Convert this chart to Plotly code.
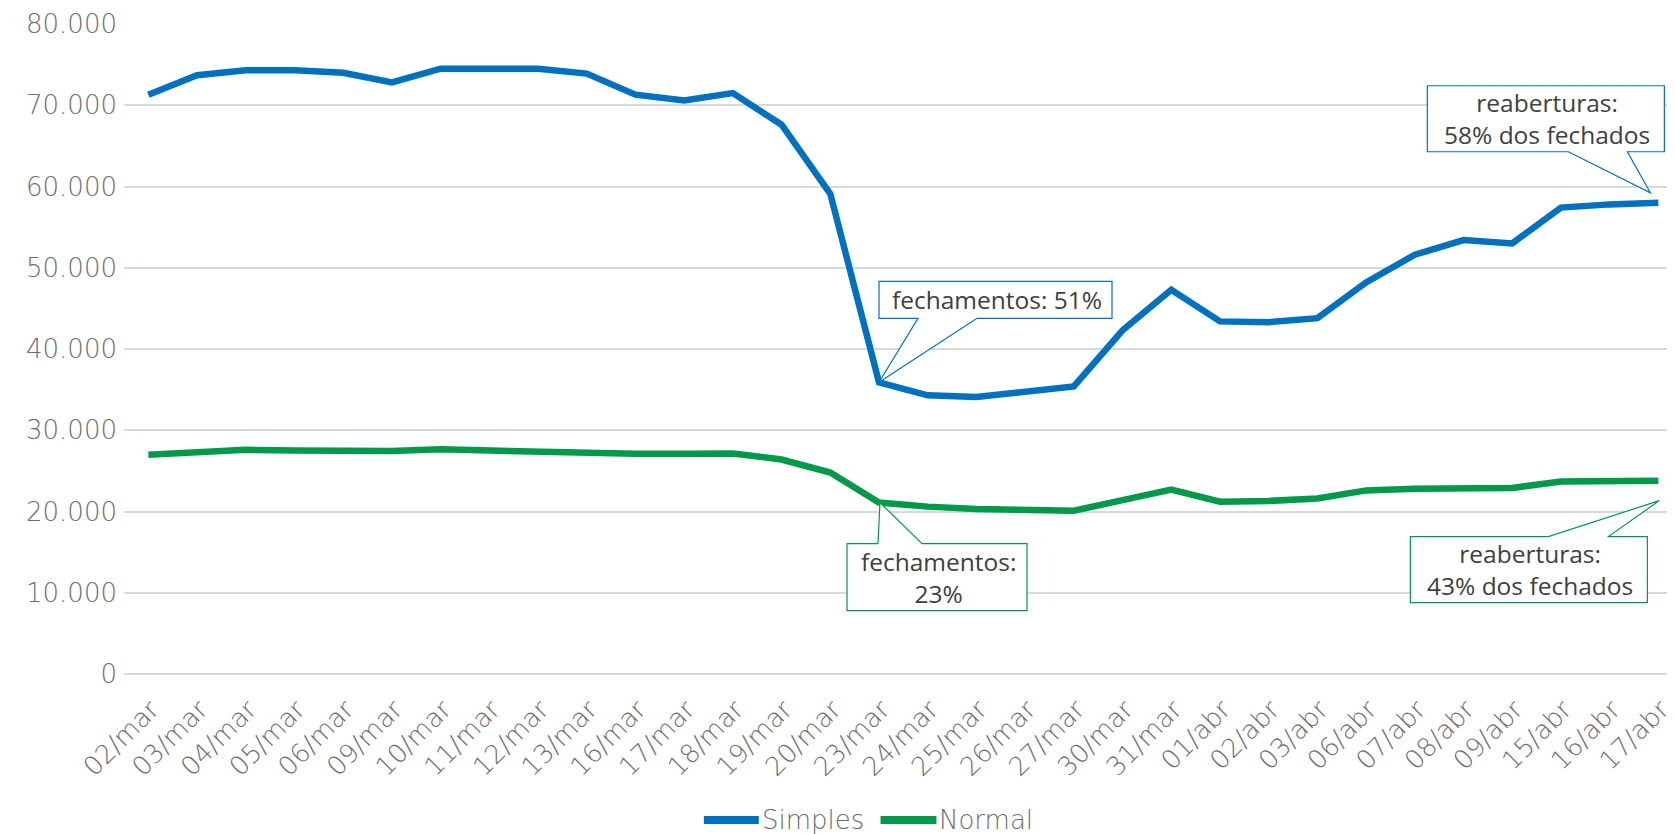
import plotly.graph_objects as go

categories = ["02/mar", "03/mar", "04/mar", "05/mar", "06/mar", "09/mar", "10/mar", "11/mar",
              "12/mar", "13/mar", "16/mar", "17/mar", "18/mar", "19/mar", "20/mar", "23/mar",
              "24/mar", "25/mar", "26/mar", "27/mar", "30/mar", "31/mar", "01/abr", "02/abr",
              "03/abr", "06/abr", "07/abr", "08/abr", "09/abr", "15/abr", "16/abr", "17/abr"]

simples = [71300, 73700, 74300, 74300, 74000, 72800, 74500, 74600,
           74500, 73900, 71300, 70600, 71500, 67600, 59100, 35900,
           34300, 34100, 34700, 35400, 42300, 47300, 43400, 43300,
           43800, 48200, 51600, 53400, 53000, 57400, 57800, 58000]

normal = [27000, 27400, 27600, 27500, 27400, 27450, 27650, 27500,
          27550, 27400, 27100, 27100, 27150, 26400, 24800, 21100,
          20600, 20300, 20250, 20100, 21400, 22700, 21200, 21300,
          21600, 22600, 22800, 22900, 22900, 23700, 23800, 23800]

series_names = ["Simples", "Normal"]
series_colors = ["#0070C0", "#009A49"]

ytick_vals = [0, 10000, 20000, 30000, 40000, 50000, 60000, 70000, 80000]
ytick_text = ["0", "10.000", "20.000", "30.000", "40.000", "50.000", "60.000", "70.000", "80.000"]

callout_texts = ["fechamentos: 51%", "reaberturas:<br>58% dos fechados",
                 "fechamentos:<br>23%", "reaberturas:<br>43% dos fechados"]

TICK_FONT = dict(family="DejaVu Sans", size=26, color="#6e6e6e", weight=200)
NOTE_FONT = dict(family="Open Sans", size=24.5, color="#404040")

# page offset of the plot div (default body margin)
OFF = 8
FIG_W, FIG_H = 1675 - OFF, 834 - OFF
# plot area in page pixels
L_PAGE, T_PAGE, B_PAGE = 124, 23.5, 674
L = L_PAGE - OFF
T = T_PAGE - OFF
H = B_PAGE - T_PAGE
W = FIG_W - L

fig = go.Figure()
for name, vals, col in zip(series_names, [simples, normal], series_colors):
    fig.add_trace(go.Scatter(x=categories, y=vals, mode="lines", name=name,
                             line=dict(color=col, width=6.5), showlegend=False))

# callouts: (series values, color, index, text, box dx0, dx1, dy_top, dy_bot, wedge b1, b2, tip, edge)
callouts = [
    (simples, series_colors[0], 15, callout_texts[0], 0, 233, 101, 64, 39, 98, (0, 0), "bottom"),
    (simples, series_colors[0], 31, callout_texts[1], -231, 6, 117, 51, -90, -31, (-8, 10), "bottom"),
    (normal, series_colors[1], 15, callout_texts[2], -32, 148, -41, -108, -1, 43, (1, 0), "top"),
    (normal, series_colors[1], 31, callout_texts[3], -248, -11, -56, -122, -110, -50, (1, -20), "top"),
]
shapes = []
annotations = []
for vals, col, idx, txt, x0, x1, yt, yb, b1, b2, tip, edge in callouts:
    tx, ty = tip
    if edge == "bottom":
        path = (f"M{x0},{yt} L{x1},{yt} L{x1},{yb} L{b2},{yb} L{tx},{ty} "
                f"L{b1},{yb} L{x0},{yb} Z")
    else:
        path = (f"M{x0},{yt} L{b1},{yt} L{tx},{ty} L{b2},{yt} L{x1},{yt} "
                f"L{x1},{yb} L{x0},{yb} Z")
    shapes.append(dict(type="path", xref="x", yref="y", xsizemode="pixel", ysizemode="pixel",
                       xanchor=idx, yanchor=vals[idx], path=path,
                       fillcolor="white", line=dict(color=col, width=1.2), layer="above"))
    annotations.append(dict(x=idx, y=vals[idx], xref="x", yref="y", text=txt,
                            showarrow=False, xanchor="center", yanchor="middle",
                            xshift=(x0 + x1) / 2 + 1, yshift=(yt + yb) / 2,
                            font=NOTE_FONT, align="center"))


def px(xp):
    return (xp - L_PAGE) / W


def py(yp):
    return (B_PAGE - yp) / H


# custom legend (page pixel positions)
legend_items = [(705, 760, 761), (882, 938, 939)]
LEG_Y = 820
for (xa, xb, xt), name, col in zip(legend_items, series_names, series_colors):
    shapes.append(dict(type="line", xref="paper", yref="paper", x0=px(xa), x1=px(xb),
                       y0=py(LEG_Y), y1=py(LEG_Y), line=dict(color=col, width=8)))
    annotations.append(dict(x=px(xt), y=py(LEG_Y), xref="paper", yref="paper", text=name,
                            showarrow=False, xanchor="left", yanchor="middle",
                            font=TICK_FONT))

fig.update_layout(
    width=FIG_W, height=FIG_H,
    margin=dict(l=L, r=0, t=T, b=FIG_H - T - H, pad=0),
    paper_bgcolor="white", plot_bgcolor="white",
    shapes=shapes, annotations=annotations,
    xaxis=dict(type="category", categoryorder="array", categoryarray=categories,
               range=[-0.5, 31.28], showgrid=False, zeroline=False, showline=False,
               tickangle=-45, tickfont=TICK_FONT, ticks="",
               ticklabelstandoff=14, ticklabelshift=3),
    yaxis=dict(range=[0, 80000], tickvals=ytick_vals, ticktext=ytick_text,
               showgrid=True, gridcolor="#d9d9d9", gridwidth=1.5,
               zeroline=True, zerolinecolor="#d9d9d9", zerolinewidth=1.5,
               showline=False, ticks="", tickfont=TICK_FONT, ticklabelstandoff=6),
)

fig.write_html("out.html")
